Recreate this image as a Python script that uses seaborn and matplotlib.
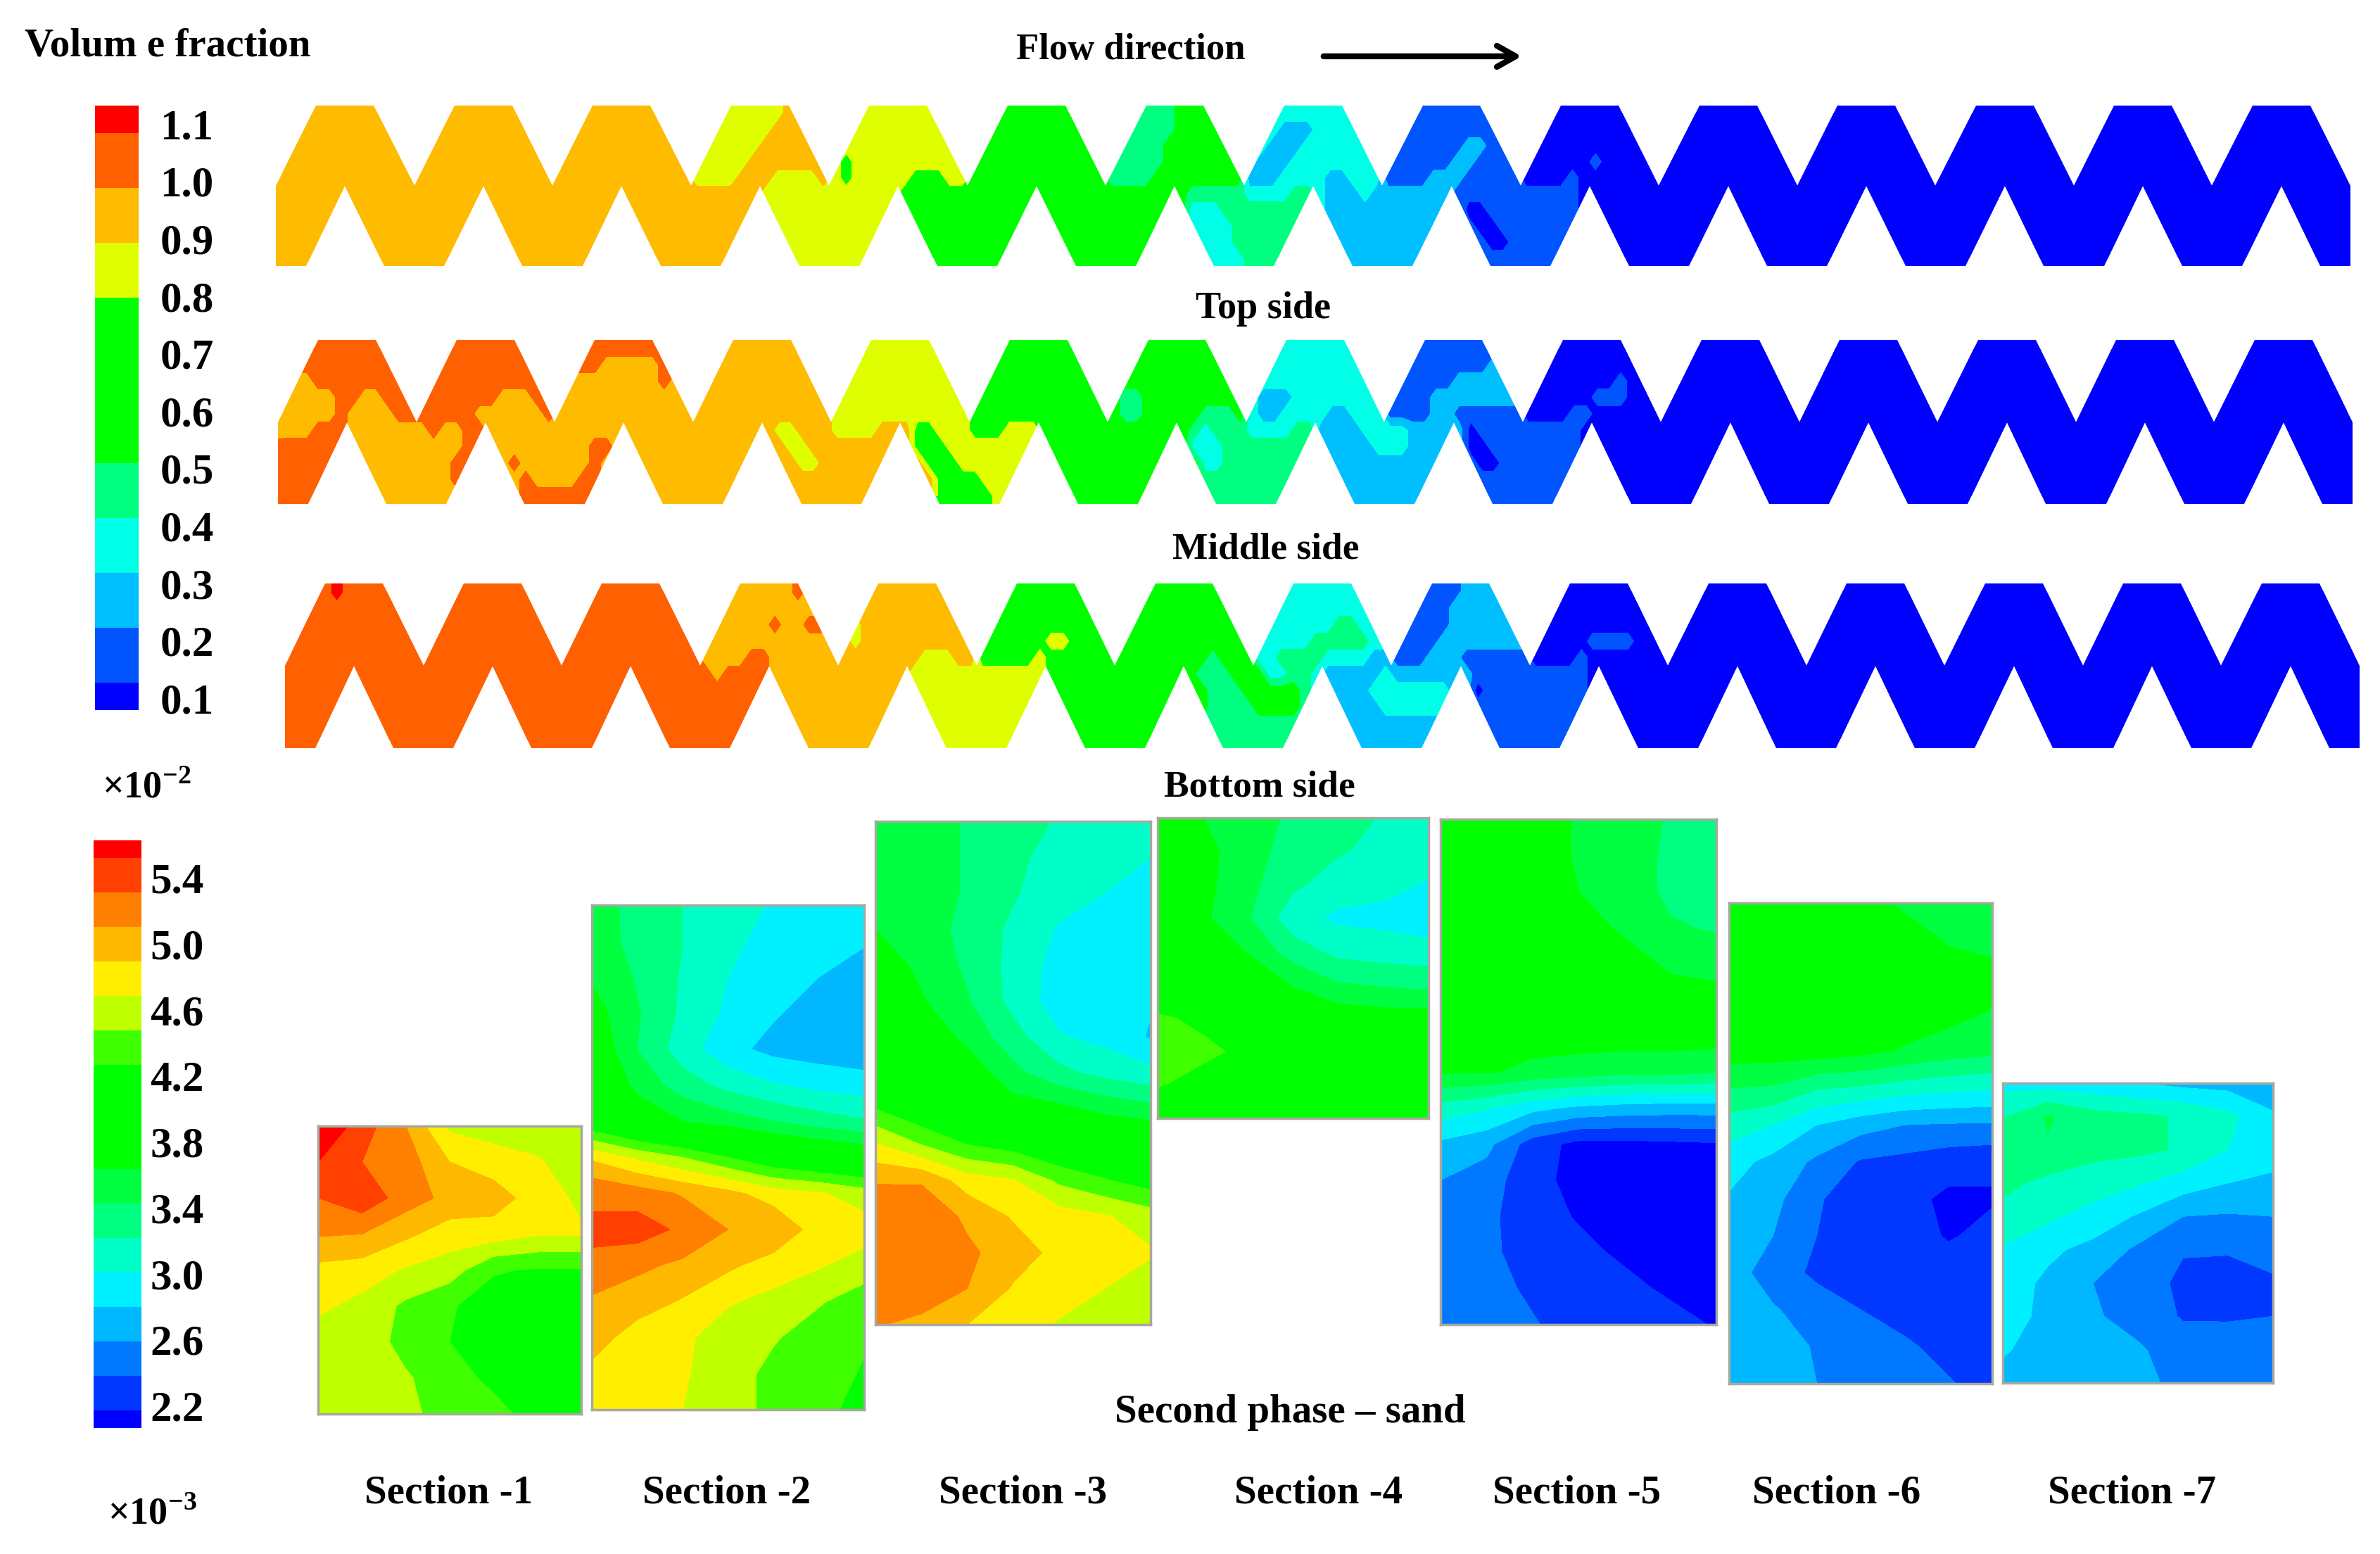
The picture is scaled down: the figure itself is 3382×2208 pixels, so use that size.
import numpy as np
import matplotlib
matplotlib.use("Agg")
import matplotlib.pyplot as plt
from matplotlib.colors import ListedColormap
from matplotlib.patches import Polygon
import seaborn as sns

# volume fraction bands, blue to red
strip_colors = ["#0000FF", "#0055FF", "#00BFFF", "#00FFE6", "#00FF80",
                "#00FF00", "#DFFF00", "#FFBB00", "#FF6000", "#FF0000"]
# sand contour bands, blue to red
section_colors = ["#0000FF", "#0038FF", "#0078FF", "#00B8FF", "#00F0FF", "#00FFC8",
                  "#00FF80", "#00FF40", "#00FF00", "#00FF00", "#00FF00", "#40FF00",
                  "#BFFF00", "#FFEE00", "#FFB800", "#FF8000", "#FF4000", "#FF0000"]

vf_ticks = ["1.1", "1.0", "0.9", "0.8", "0.7", "0.6", "0.5", "0.4", "0.3", "0.2", "0.1"]
sand_ticks = ["5.4", "5.0", "4.6", "4.2", "3.8", "3.4", "3.0", "2.6", "2.2"]
vf_bar = [9, 8, 8, 7, 7, 6, 6, 5, 5, 5, 5, 5, 5, 4, 4, 3, 3, 2, 2, 1, 1, 0]
sand_bar = [17, 16, 16, 15, 15, 14, 14, 13, 13, 12, 12, 11, 11, 10, 10, 9, 9, 8, 8,
            7, 7, 6, 6, 5, 5, 4, 4, 3, 3, 2, 2, 1, 1, 0]
section_names = ["Section -1", "Section -2", "Section -3", "Section -4",
                 "Section -5", "Section -6", "Section -7"]

# band digit per cell, one group per tooth, teeth not listed are all blue
top_side = [
    "777777777777 777777777777 777777777777 666666667777 666666666666 555555555555 444444555555 333333333333 111111111111 000000000000",
    "777777777777 777777777777 777777777777 666666677777 666666666666 555555555555 444444555555 333222333333 111111111111 000000000000",
    "777777777777 777777777777 777777777777 666666777777 666666666666 555555555555 444445555555 332223333333 111111122111 000000000000",
    "777777777777 777777777777 777777777777 666667777777 656666666666 555555555555 444445555555 322233333333 111111221111 000000100000",
    "777777777777 777777777777 777777777777 666677766667 656666655566 555555555555 444455555555 222333322333 111122211111 000010000000",
    "777777777777 777777777777 777777777777 777777666666 666666555555 555555555555 555555544444 333344322232 222222111111 111110000000",
    "777777777777 777777777777 777777777777 777777666666 666666555555 555555555555 555555533344 444444322222 222222200111 111110000000",
    "777777777777 777777777777 777777777777 777777666666 666666555555 555555555555 555555533334 444444322222 222222210011 111110000000",
    "777777777777 777777777777 777777777777 777777666666 666666555555 555555555555 555555533334 444444322222 222222211001 111110000000",
    "777777777777 777777777777 777777777777 777777666666 666666555555 555555555555 555555533333 444444322222 222222211111 111110000000",
]
middle_side = [
    "888888888888 888888888888 888888888888 777777777777 666666666666 555555555555 555555555555 333333333333 111111111111 000000000000",
    "888888888888 888888888888 888877777888 777777777777 666666666666 555555555555 555555555555 333333333333 111111111222 000000000000",
    "777888888888 888888888888 777777777877 777777777777 666666666666 555555555555 555555555555 333333333333 111111222222 000000001000",
    "777778877888 888888877788 777777777777 777777777777 666666666666 555555555555 544555555555 322233333333 111122222222 000000111000",
    "777778777788 888887777778 777777777777 777777777777 666666666666 555555555555 544555554445 322333322333 111122111111 000011000000",
    "777888777777 787788777777 777777777777 777777766777 666677755666 555666555555 555555543444 333344222233 332222201111 111110000000",
    "888888777777 777788777777 777887777777 777777776677 777777755566 666666555555 555555533344 444444222223 332222200111 111110000000",
    "888887777777 777888778777 777877777777 777777777667 777777775556 666666555555 555555553344 444444222222 222222210011 111110000000",
    "888877777777 777888777877 778877777777 777777777777 777777777555 566666555555 555555544444 444444222222 222222211111 111110000000",
    "888777777777 777777777888 888877777777 777777777777 777777777555 556666555555 555555544444 444444222222 222222211111 111110000000",
]
bottom_side = [
    "888898888888 888888888888 888888888888 777777778777 777777777777 555555555555 555555555555 333333333333 111111222222 000000000000",
    "888888888888 888888888888 888888888888 777777777777 777777777777 555555555555 555555555555 333333333333 111112222222 000000000000",
    "888888888888 888888888888 888888888888 777777877887 767777777777 555555555555 555555555555 333333344333 111112222222 000000000000",
    "888888888888 888888888888 888888888888 777777777777 767777777777 555555665555 555555555555 333334444433 111122222222 000001111000",
    "888888888888 888888888888 888888888888 777788777777 777777766677 555556555555 555555554555 334444333322 111222111111 000010000000",
    "888888888888 888888888888 888888888888 878888777777 777777666666 666666555555 555555544455 533443222223 222222211111 111110000000",
    "888888888888 888888888888 888888888888 888888777777 777777666666 666666555555 555555554445 555543222233 333332201111 111110000000",
    "888888888888 888888888888 888888888888 888888777777 777777666666 666666555555 555555554444 555543222223 333332211111 111110000000",
    "888888888888 888888888888 888888888888 888888777777 777777666666 666666555555 555555544444 444444222222 222222211111 111110000000",
    "888888888888 888888888888 888888888888 888888777777 777777666666 666666555555 555555544444 444444222222 222222211111 111110000000",
]

# contour band number at grid nodes, rows run top to bottom
section_1 = [
    [17.5, 16.0, 14.5, 12.3, 12.0, 12.0, 12.5],
    [16.5, 15.5, 15.0, 13.5, 13.0, 12.6, 12.0],
    [15.5, 16.2, 15.0, 14.2, 14.0, 13.0, 12.3],
    [14.6, 14.5, 13.7, 13.0, 13.0, 12.6, 12.6],
    [13.2, 13.0, 12.4, 12.0, 10.6, 10.4, 10.4],
    [12.7, 12.2, 11.3, 10.6, 10.0, 10.0, 10.0],
    [12.0, 12.0, 11.2, 10.5, 10.0, 10.0, 10.0],
    [12.0, 12.0, 11.6, 11.0, 10.2, 10.0, 10.0],
    [12.0, 12.0, 11.8, 11.0, 10.9, 10.0, 10.0],
]
section_2 = [
    [6.8, 6.3, 5.5, 5.0, 4.4, 4.1, 3.8],
    [7.0, 6.2, 5.5, 4.7, 4.2, 4.0, 3.6],
    [7.4, 6.4, 5.4, 4.5, 4.0, 3.5, 3.0],
    [8.0, 6.6, 5.3, 4.3, 3.6, 3.1, 2.8],
    [8.5, 6.5, 5.0, 3.8, 3.2, 3.0, 2.8],
    [9.0, 7.2, 6.0, 5.2, 4.6, 4.2, 4.0],
    [9.5, 8.3, 7.5, 7.0, 6.5, 6.0, 5.6],
    [13.3, 12.3, 11.5, 10.5, 9.5, 9.0, 8.5],
    [15.4, 15.0, 14.4, 13.8, 13.0, 12.6, 12.0],
    [15.6, 16.0, 15.3, 14.5, 14.4, 13.0, 13.0],
    [15.4, 14.7, 14.3, 13.7, 13.0, 12.6, 12.0],
    [14.3, 14.0, 13.4, 12.6, 12.2, 11.6, 11.0],
    [14.0, 13.0, 12.7, 12.0, 11.6, 11.0, 10.6],
    [13.2, 13.0, 12.6, 12.0, 11.2, 11.0, 10.4],
    [13.0, 13.0, 12.5, 12.0, 11.2, 10.9, 10.0],
]
section_3 = [
    [7.2, 7.0, 6.4, 6.0, 5.4, 5.0, 4.7],
    [7.3, 7.0, 6.4, 5.8, 5.0, 5.0, 4.5],
    [7.4, 7.0, 6.4, 5.6, 4.9, 4.5, 4.0],
    [7.5, 7.0, 6.2, 5.3, 4.4, 4.0, 4.0],
    [8.0, 7.3, 6.3, 5.2, 4.1, 4.0, 4.0],
    [8.5, 7.6, 6.6, 5.2, 4.0, 3.8, 3.6],
    [9.0, 8.4, 7.2, 5.9, 4.6, 4.2, 3.4],
    [9.5, 9.0, 8.2, 6.8, 5.8, 5.2, 4.8],
    [10.5, 9.5, 8.8, 8.0, 7.8, 7.2, 6.8],
    [12.6, 11.5, 10.5, 10.0, 9.3, 9.0, 9.0],
    [14.4, 14.4, 13.0, 12.6, 11.3, 10.6, 10.0],
    [15.4, 15.3, 14.3, 13.4, 13.0, 12.6, 12.0],
    [15.4, 15.4, 14.7, 14.0, 13.2, 13.0, 12.6],
    [15.4, 15.2, 14.5, 13.4, 13.0, 12.5, 12.0],
    [14.6, 14.2, 13.5, 13.0, 12.4, 12.0, 12.0],
]
section_4 = [
    [8.0, 7.5, 7.0, 6.3, 6.0, 5.4, 5.0],
    [8.3, 7.8, 7.0, 6.0, 5.6, 5.2, 5.0],
    [8.5, 7.8, 6.8, 5.7, 5.0, 4.8, 4.4],
    [8.8, 7.7, 6.6, 4.9, 4.3, 4.2, 3.9],
    [9.0, 8.6, 7.4, 6.0, 5.2, 5.0, 4.9],
    [9.2, 9.0, 8.6, 7.4, 6.6, 6.4, 6.2],
    [10.7, 10.2, 9.5, 8.6, 8.2, 8.0, 8.0],
    [11.0, 10.8, 10.2, 9.4, 9.0, 9.0, 9.0],
    [10.6, 10.0, 9.5, 9.3, 9.0, 9.0, 9.0],
    [9.0, 9.0, 9.0, 9.0, 9.0, 8.6, 8.3],
]
section_5 = [
    [8.0, 8.0, 8.0, 7.4, 7.0, 6.4, 6.2],
    [8.0, 8.0, 8.0, 7.4, 7.0, 6.3, 6.0],
    [8.0, 8.0, 8.0, 7.5, 7.0, 6.3, 6.0],
    [8.0, 8.0, 8.0, 8.0, 7.3, 6.6, 6.4],
    [8.0, 8.0, 8.0, 8.0, 8.0, 7.3, 7.0],
    [8.0, 8.0, 8.0, 8.0, 8.0, 8.0, 8.0],
    [8.0, 8.0, 8.0, 8.0, 8.0, 8.0, 8.0],
    [7.6, 7.6, 7.2, 7.0, 6.8, 6.8, 6.6],
    [5.1, 4.6, 3.8, 3.3, 3.1, 3.0, 3.0],
    [3.3, 2.8, 1.0, 0.2, 0.2, 0.3, 0.4],
    [2.5, 2.0, 0.8, 0.2, 0.0, 0.0, 0.0],
    [2.3, 1.7, 1.0, 0.4, 0.0, 0.0, 0.0],
    [2.2, 1.7, 1.1, 0.8, 0.3, 0.0, 0.0],
    [2.2, 1.9, 1.3, 1.0, 0.8, 0.3, 0.0],
    [2.2, 2.1, 1.6, 1.0, 1.0, 0.9, 0.4],
]
section_6 = [
    [8.0, 8.0, 8.0, 8.0, 7.3, 7.0, 7.0],
    [8.0, 8.0, 8.0, 8.0, 8.0, 7.4, 7.0],
    [8.0, 8.0, 8.0, 8.0, 8.0, 8.0, 8.0],
    [8.0, 8.0, 8.0, 8.0, 8.0, 7.8, 7.4],
    [8.0, 8.0, 8.0, 7.8, 7.4, 7.0, 6.8],
    [6.5, 6.4, 5.6, 5.4, 5.0, 4.8, 4.6],
    [5.0, 4.5, 3.5, 2.9, 2.5, 2.4, 2.4],
    [3.9, 3.2, 2.3, 1.4, 1.2, 0.9, 0.7],
    [3.4, 2.8, 1.6, 1.0, 0.8, 0.3, 0.4],
    [3.0, 2.5, 1.5, 1.0, 1.0, 0.4, 0.8],
    [3.0, 2.0, 1.3, 1.0, 1.0, 1.0, 1.0],
    [3.1, 2.6, 2.0, 1.5, 1.0, 1.0, 1.0],
    [3.2, 3.0, 2.4, 2.0, 1.7, 1.1, 1.0],
    [3.3, 3.0, 2.5, 2.1, 2.0, 1.6, 1.0],
]
section_7 = [
    [4.2, 4.0, 3.8, 3.5, 3.2, 3.1, 3.0],
    [5.4, 6.6, 5.9, 5.7, 5.4, 4.8, 3.6],
    [6.0, 6.4, 5.8, 5.7, 5.4, 4.5, 3.9],
    [5.8, 5.2, 5.0, 4.6, 4.0, 3.5, 3.3],
    [5.1, 4.7, 4.1, 3.4, 2.5, 2.4, 2.5],
    [4.4, 3.7, 3.2, 2.3, 1.6, 1.6, 2.0],
    [4.0, 3.3, 2.5, 2.2, 1.2, 1.0, 1.3],
    [4.0, 3.2, 2.6, 2.2, 1.4, 1.4, 1.5],
    [3.6, 3.1, 2.9, 2.6, 2.1, 2.0, 2.0],
    [3.2, 3.1, 3.0, 2.7, 2.3, 2.0, 2.0],
]

W, H = 3382, 2208
TEETH = 15
COLS = 12

sns.set_theme(style="white")
plt.rcParams["font.family"] = ["Liberation Serif", "DejaVu Serif"]
plt.rcParams["mathtext.fontset"] = "custom"
plt.rcParams["mathtext.bf"] = "Liberation Serif:bold"
plt.rcParams["mathtext.rm"] = "Liberation Serif:bold"

fig = plt.figure(figsize=(W / 100, H / 100), dpi=100, facecolor="white")
strip_cmap = ListedColormap(strip_colors)


def px_axes(x0, y0, x1, y1):
    return fig.add_axes([x0 / W, 1 - y1 / H, (x1 - x0) / W, (y1 - y0) / H])


def strip_matrix(rows):
    out = []
    for row in rows:
        cells = row.replace(" ", "").ljust(TEETH * COLS, "0")
        out.append([int(c) for c in cells])
    return np.array(out)


def channel_outline():
    # zigzag channel in heatmap cell units
    top = [(0, 5)]
    bottom = [(0, 10), (2.6, 10)]
    for k in range(TEETH):
        left = k * COLS
        top += [(left + 3.5, 0), (left + 8.5, 0), (left + COLS, 5)]
        bottom += [(left + 6, 5), (left + 9.4, 10), (left + 14.6, 10)]
    bottom[-1] = (TEETH * COLS, 10)
    return top + bottom[::-1]


def draw_strip(rows, box):
    ax = px_axes(*box)
    matrix = strip_matrix(rows)
    sns.heatmap(matrix, ax=ax, cmap=strip_cmap, vmin=-0.5, vmax=9.5,
                cbar=False, xticklabels=False, yticklabels=False)
    # contour lines over the cell centres round off the cell steps
    filled = ax.contourf(np.arange(matrix.shape[1]) + 0.5, np.arange(matrix.shape[0]) + 0.5, matrix,
                         levels=np.arange(-0.5, 10.5), colors=strip_colors, antialiased=False)
    outline = Polygon(channel_outline(), closed=True, transform=ax.transData)
    ax.collections[0].set_clip_path(outline)
    filled.set_clip_path(outline)


def draw_bar(values, cmap, vmax, box, ticks, tick_pos, pad):
    ax = px_axes(*box)
    sns.heatmap(np.array(values).reshape(-1, 1), ax=ax, cmap=cmap, vmin=-0.5, vmax=vmax,
                cbar=False, xticklabels=False, yticklabels=False)
    ax.yaxis.tick_right()
    ax.set_yticks(tick_pos)
    ax.set_yticklabels(ticks, rotation=0, fontsize=44, fontweight="bold", color="black")
    ax.tick_params(axis="y", length=0, pad=pad)


def draw_section(field, box):
    ax = px_axes(*box)
    field = np.array(field)
    x = np.linspace(0, 1, field.shape[1])
    y = np.linspace(0, 1, field.shape[0])
    ax.contourf(x, y, field, levels=np.arange(-0.5, 18.5), colors=section_colors,
                antialiased=False)
    ax.set_ylim(1, 0)
    ax.set_xticks([])
    ax.set_yticks([])
    for spine in ax.spines.values():
        spine.set_color("#a8a8a0")
        spine.set_linewidth(2.5)


draw_strip(top_side, (392, 150, 3340, 378))
draw_strip(middle_side, (395, 483, 3343, 716))
draw_strip(bottom_side, (405, 829, 3353, 1063))

draw_bar(vf_bar, strip_cmap, 9.5, (135, 150, 197, 1009), vf_ticks,
         np.linspace(0.66, 21.56, 11), 22)
draw_bar(sand_bar, ListedColormap(section_colors), 17.5, (133, 1194, 201, 2029), sand_ticks,
         np.linspace(2.16, 32.7, 9), 9)

section_boxes = [(452, 1600, 826, 2009), (841, 1286, 1228, 2003), (1244, 1167, 1635, 1882),
                 (1645, 1162, 2030, 1589), (2047, 1164, 2439, 1882), (2457, 1283, 2831, 1966),
                 (2846, 1539, 3230, 1965)]
section_fields = [section_1, section_2, section_3, section_4, section_5, section_6, section_7]
for field, box in zip(section_fields, section_boxes):
    draw_section(field, box)

# overlay in picture pixels for captions and the flow arrow
over = fig.add_axes([0, 0, 1, 1], facecolor="none")
over.set_xlim(0, W)
over.set_ylim(H, 0)
over.axis("off")


def caption(x, y, s, size=41, ha="center"):
    over.text(x, y + 4, s, fontsize=size, fontweight="bold", ha=ha, va="center", color="black")


caption(35, 62, "Volum e fraction", ha="left")
caption(1607, 67, "Flow direction", size=38)
caption(1795, 435, "Top side", size=39)
caption(1799, 776, "Middle side", size=38.5)
caption(1790, 1115, "Bottom side", size=38.5)
caption(1833, 2003, "Second phase – sand")
caption(145, 1116, r"×10$^{-2}$", ha="left", size=39)
caption(153, 2149, r"×10$^{-3}$", ha="left", size=39)
for name, x in zip(section_names, [638, 1033, 1454, 1874, 2241, 2610, 3030]):
    caption(x, 2118, name)

over.annotate("", xy=(2165, 80), xytext=(1878, 80),
              arrowprops=dict(arrowstyle="->,head_length=1.6,head_width=0.9", lw=6, color="black"))

fig.savefig("out.png", dpi=100, facecolor="white")
